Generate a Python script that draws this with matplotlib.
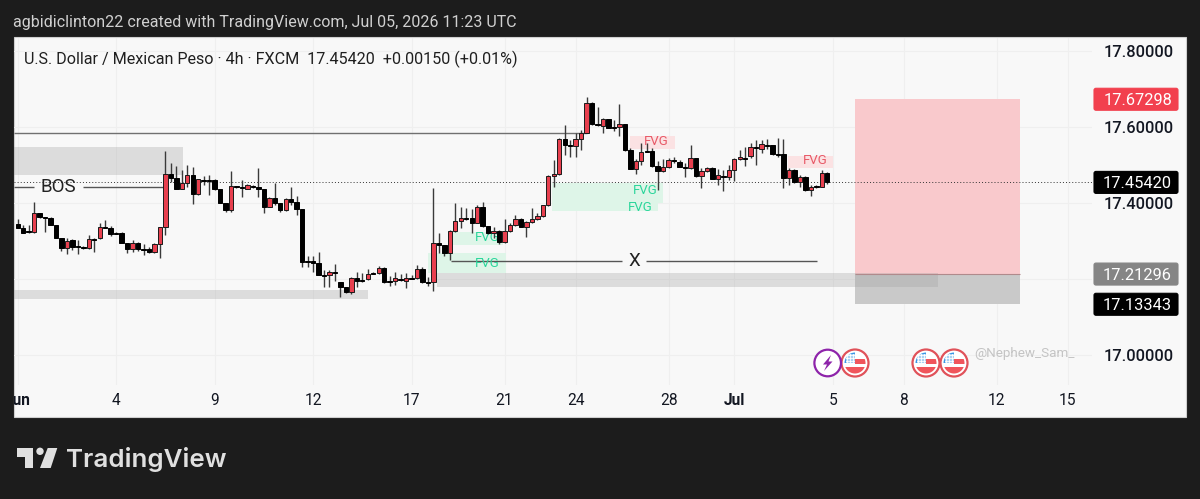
import matplotlib
matplotlib.use("Agg")
import matplotlib.pyplot as plt
import numpy as np
from matplotlib.patches import Circle, FancyBboxPatch, Polygon, Rectangle
from matplotlib.transforms import Bbox

plt.rcParams["font.family"] = ["Roboto", "DejaVu Sans"]

# 4h candles
open_ = [17.345, 17.334, 17.326, 17.324, 17.374, 17.363, 17.361, 17.342, 17.308, 17.282,
         17.303, 17.287, 17.284, 17.282, 17.305, 17.308, 17.337, 17.334, 17.321, 17.321,
         17.295, 17.279, 17.295, 17.279, 17.279, 17.271, 17.292, 17.337, 17.476, 17.466,
         17.437, 17.453, 17.474, 17.424, 17.461, 17.461, 17.461, 17.437, 17.400, 17.382,
         17.445, 17.442, 17.437, 17.445, 17.442, 17.437, 17.389, 17.413, 17.400, 17.382,
         17.411, 17.403, 17.384, 17.247, 17.247, 17.242, 17.211, 17.211, 17.218, 17.192,
         17.179, 17.166, 17.203, 17.197, 17.200, 17.216, 17.216, 17.229, 17.195, 17.195,
         17.200, 17.195, 17.203, 17.203, 17.226, 17.192, 17.192, 17.295, 17.289, 17.268,
         17.326, 17.353, 17.361, 17.361, 17.347, 17.389, 17.339, 17.321, 17.326, 17.297,
         17.326, 17.342, 17.358, 17.337, 17.350, 17.358, 17.366, 17.395, 17.471, 17.476,
         17.568, 17.553, 17.550, 17.568, 17.584, 17.663, 17.608, 17.603, 17.621, 17.600,
         17.600, 17.608, 17.539, 17.489, 17.511, 17.537, 17.537, 17.497, 17.484, 17.495,
         17.513, 17.508, 17.495, 17.492, 17.518, 17.471, 17.484, 17.492, 17.463, 17.471,
         17.468, 17.487, 17.516, 17.518, 17.524, 17.547, 17.542, 17.553, 17.553, 17.529,
         17.529, 17.466, 17.487, 17.455, 17.468, 17.434, 17.445, 17.442, 17.479]
close = [17.334, 17.321, 17.324, 17.374, 17.363, 17.361, 17.342, 17.308, 17.282, 17.300,
         17.284, 17.284, 17.282, 17.305, 17.303, 17.337, 17.334, 17.318, 17.318, 17.295,
         17.279, 17.295, 17.279, 17.276, 17.271, 17.292, 17.337, 17.476, 17.466, 17.437,
         17.453, 17.474, 17.424, 17.463, 17.458, 17.458, 17.437, 17.400, 17.382, 17.445,
         17.442, 17.439, 17.447, 17.442, 17.437, 17.389, 17.413, 17.400, 17.382, 17.411,
         17.403, 17.384, 17.245, 17.245, 17.242, 17.211, 17.208, 17.218, 17.216, 17.179,
         17.166, 17.203, 17.195, 17.195, 17.213, 17.213, 17.229, 17.192, 17.192, 17.203,
         17.197, 17.203, 17.200, 17.226, 17.192, 17.189, 17.295, 17.289, 17.268, 17.326,
         17.353, 17.361, 17.358, 17.347, 17.389, 17.339, 17.321, 17.326, 17.297, 17.326,
         17.342, 17.358, 17.337, 17.350, 17.358, 17.366, 17.395, 17.471, 17.476, 17.568,
         17.553, 17.550, 17.568, 17.584, 17.663, 17.608, 17.605, 17.621, 17.597, 17.597,
         17.608, 17.539, 17.489, 17.511, 17.534, 17.534, 17.497, 17.484, 17.495, 17.513,
         17.511, 17.495, 17.492, 17.518, 17.471, 17.484, 17.492, 17.463, 17.474, 17.468,
         17.487, 17.516, 17.521, 17.516, 17.547, 17.545, 17.555, 17.550, 17.529, 17.526,
         17.466, 17.487, 17.455, 17.468, 17.434, 17.442, 17.442, 17.479, 17.455]
high = [17.358, 17.342, 17.342, 17.403, 17.374, 17.363, 17.363, 17.342, 17.308, 17.308,
        17.305, 17.303, 17.287, 17.316, 17.308, 17.347, 17.355, 17.339, 17.324, 17.324,
        17.295, 17.303, 17.297, 17.292, 17.284, 17.295, 17.337, 17.537, 17.505, 17.497,
        17.487, 17.500, 17.495, 17.463, 17.471, 17.474, 17.463, 17.437, 17.400, 17.484,
        17.445, 17.461, 17.450, 17.447, 17.492, 17.437, 17.416, 17.453, 17.400, 17.413,
        17.442, 17.418, 17.384, 17.261, 17.261, 17.271, 17.224, 17.224, 17.239, 17.192,
        17.179, 17.205, 17.218, 17.216, 17.226, 17.218, 17.234, 17.232, 17.208, 17.218,
        17.213, 17.216, 17.211, 17.237, 17.232, 17.205, 17.439, 17.321, 17.289, 17.329,
        17.400, 17.389, 17.387, 17.384, 17.395, 17.403, 17.339, 17.337, 17.329, 17.358,
        17.347, 17.368, 17.361, 17.353, 17.387, 17.374, 17.395, 17.474, 17.513, 17.571,
        17.605, 17.566, 17.584, 17.592, 17.679, 17.666, 17.653, 17.624, 17.621, 17.618,
        17.661, 17.608, 17.545, 17.516, 17.558, 17.558, 17.545, 17.511, 17.516, 17.518,
        17.521, 17.513, 17.505, 17.553, 17.518, 17.492, 17.495, 17.495, 17.489, 17.487,
        17.500, 17.518, 17.539, 17.547, 17.558, 17.566, 17.566, 17.568, 17.553, 17.571,
        17.568, 17.492, 17.489, 17.474, 17.471, 17.447, 17.447, 17.487, 17.482]
low = [17.334, 17.321, 17.321, 17.321, 17.361, 17.324, 17.342, 17.308, 17.274, 17.266,
       17.276, 17.266, 17.279, 17.279, 17.271, 17.305, 17.334, 17.313, 17.318, 17.295,
       17.268, 17.271, 17.274, 17.263, 17.268, 17.268, 17.255, 17.316, 17.455, 17.437,
       17.437, 17.442, 17.397, 17.421, 17.447, 17.421, 17.434, 17.400, 17.376, 17.376,
       17.439, 17.416, 17.437, 17.439, 17.416, 17.374, 17.389, 17.395, 17.376, 17.379,
       17.395, 17.368, 17.232, 17.232, 17.218, 17.211, 17.179, 17.179, 17.195, 17.153,
       17.163, 17.161, 17.179, 17.192, 17.197, 17.213, 17.213, 17.189, 17.182, 17.184,
       17.195, 17.176, 17.200, 17.200, 17.189, 17.182, 17.168, 17.268, 17.261, 17.250,
       17.324, 17.334, 17.355, 17.321, 17.347, 17.337, 17.318, 17.308, 17.292, 17.295,
       17.324, 17.339, 17.337, 17.311, 17.347, 17.355, 17.363, 17.392, 17.442, 17.474,
       17.526, 17.521, 17.521, 17.539, 17.584, 17.605, 17.603, 17.584, 17.597, 17.589,
       17.576, 17.537, 17.489, 17.476, 17.500, 17.534, 17.495, 17.434, 17.482, 17.492,
       17.505, 17.495, 17.468, 17.489, 17.468, 17.439, 17.482, 17.463, 17.447, 17.432,
       17.461, 17.458, 17.513, 17.497, 17.518, 17.500, 17.532, 17.542, 17.526, 17.521,
       17.439, 17.447, 17.453, 17.442, 17.432, 17.418, 17.439, 17.442, 17.450]

# axis labels
x_tick_pos = [0, 18, 36, 54, 72, 89, 102, 119, 131, 149, 162, 179, 192]
x_tick_txt = ["Jun", "4", "9", "12", "17", "21", "24", "28", "Jul", "5", "8", "12", "15"]
y_tick_pos = [17.0, 17.2, 17.4, 17.6, 17.8]
y_tick_txt = ["17.00000", "", "17.40000", "17.60000", "17.80000"]

# drawn zones: start, end, top, bottom
green_zones = [(79.6, 88.7, 17.324, 17.289), (75.0, 89.3, 17.268, 17.216),
               (97.7, 118.0, 17.453, 17.400), (97.7, 117.0, 17.400, 17.379)]
red_zones = [(111.9, 120.2, 17.576, 17.542), (140.8, 149.0, 17.524, 17.492)]
gray_zones = [(-0.7, 30.2, 17.547, 17.474), (-0.7, 64.0, 17.171, 17.147),
              (76.7, 168.2, 17.216, 17.179)]
fvg_green = [(85.8, 17.308), (85.8, 17.242), (114.7, 17.434), (113.8, 17.389)]
fvg_red = [(116.7, 17.561), (145.8, 17.511)]

last_price = 17.45420
box_left, box_right = 153.07, 183.2
box_stop, box_entry, box_target = 17.67298, 17.21296, 17.13343

BG = "#1c1c1c"
PANEL = "#f8f8f8"
TXT = "#131722"
RED = "#e8404f"

fig = plt.figure(figsize=(12, 4.99), dpi=100, facecolor=BG)

# panel behind the chart
bg = fig.add_axes([0, 0, 1, 1], zorder=0)
bg.set_xlim(0, 1200)
bg.set_ylim(499, 0)
bg.axis("off")
bg.add_patch(Rectangle((14, 37), 1172, 380, fc=PANEL, ec="#cfcfcf", lw=0.8))

# main chart, 14..1092 px across, 38..385 px down
ax = fig.add_axes([14 / 1200, 1 - 385 / 499, 1078 / 1200, 347 / 499], zorder=1)
ax.patch.set_alpha(0)
for s in ax.spines.values():
    s.set_visible(False)
ax.set_xlim(-0.676, 196.4)
ax.set_ylim(16.921, 17.8342)
ax.set_xticks(x_tick_pos, x_tick_txt)
ax.yaxis.tick_right()
ax.set_yticks(y_tick_pos, y_tick_txt)
ax.tick_params(axis="x", length=0, pad=6, labelsize=11.2, labelcolor=TXT)
ax.tick_params(axis="y", length=0, pad=8.5, labelsize=11.8, labelcolor=TXT)
for lbl in ax.get_yticklabels():
    lbl.set_fontweight("medium")
ax.grid(color="#efefef", lw=0.8)
ax.set_axisbelow(True)

clip = Bbox([[14, 0], [1186, 499]])
for lbl, txt in zip(ax.get_xticklabels(), x_tick_txt):
    lbl.set_clip_on(True)
    lbl.set_clip_box(clip)
    if txt in ("Jun", "Jul"):
        lbl.set_fontweight("bold")

# position box
ax.add_patch(Rectangle((box_left, box_entry), box_right - box_left, box_stop - box_entry,
                       fc="#f9c9cc", ec="none", zorder=1))
ax.add_patch(Rectangle((box_left, box_target), box_right - box_left, box_entry - box_target,
                       fc="#c9c9c9", ec="none", zorder=1))
ax.hlines(box_entry, box_left, box_right, color="#b08a8c", lw=0.8, zorder=1.5)


def zone(z, color, alpha=1.0):
    ax.add_patch(Rectangle((z[0], z[3]), z[1] - z[0], z[2] - z[3], fc=color, ec="none",
                           alpha=alpha, zorder=1.2))


for z in gray_zones:
    zone(z, "#9e9e9e", 0.3)
for z in green_zones:
    zone(z, "#def5e8")
for z in red_zones:
    zone(z, "#fbe2e3")
for x, y in fvg_green:
    ax.text(x, y, "FVG", color="#2bd69b", fontsize=9.5, ha="center", va="center", zorder=2)
for x, y in fvg_red:
    ax.text(x, y, "FVG", color="#e85a68", fontsize=9.5, ha="center", va="center", zorder=2)

# drawn lines
ax.hlines(17.584, -0.7, 104, color="#707070", lw=1.0, zorder=1.5)
ax.axhline(last_price, color="#333333", lw=0.7, ls=(0, (1, 2.2)), zorder=1.5)
ax.hlines(17.441, -0.7, 3.0, color="#555555", lw=1.0, zorder=1.5)
ax.hlines(17.441, 11.9, 26.6, color="#555555", lw=1.0, zorder=1.5)
ax.text(7.4, 17.441, "BOS", color="#222222", fontsize=13.5, ha="center", va="center")
ax.hlines(17.247, 79.2, 110.5, color="#555555", lw=1.0, zorder=1.5)
ax.hlines(17.247, 114.9, 146.1, color="#555555", lw=1.0, zorder=1.5)
ax.text(112.7, 17.247, "X", color="#222222", fontsize=13.5, ha="center", va="center")

# candles
idx = np.arange(len(open_))
o, c = np.array(open_), np.array(close)
up = c >= o
ax.vlines(idx, low, high, color="#3a3a3a", lw=1.0, zorder=3)
ax.bar(idx[up], (c - o)[up], bottom=o[up], width=0.8, color=RED, edgecolor="#1a1a1a",
       lw=0.7, zorder=4)
ax.bar(idx[~up], (o - c)[~up], bottom=c[~up], width=0.8, color="black", edgecolor="black",
       lw=0.7, zorder=4)

# everything in plain pixels on top
top = fig.add_axes([0, 0, 1, 1], zorder=2)
top.set_xlim(0, 1200)
top.set_ylim(499, 0)
top.axis("off")
top.patch.set_alpha(0)

top.text(13, 22, "agbidiclinton22 created with TradingView.com, Jul 05, 2026 11:23 UTC",
         color="#d0d0d0", fontsize=11.55, va="center")
top.text(24, 59, "U.S. Dollar / Mexican Peso · 4h · FXCM  17.45420  +0.00150 (+0.01%)",
         color="#1f1f1f", fontsize=11.65, va="center")
top.text(974, 354, "@Nephew_Sam_", color="#c4c4c4", fontsize=9.7, va="center")
top.text(66, 459, "TradingView", color="#e0e0e0", fontsize=18.7, fontweight="semibold",
         family="Inter", va="center")

# logo
top.add_patch(Polygon([(17, 448), (33, 448), (33, 468), (25, 468), (25, 457), (17, 457)],
                      fc="#e0e0e0", ec="none"))
top.add_patch(Circle((40, 451.3), 3.7, fc="#e0e0e0", ec="none"))
top.add_patch(Polygon([(47.7, 448), (57.3, 448), (50.7, 468), (40, 468)], fc="#e0e0e0", ec="none"))


def price_y(p):
    # price to the pixel row of the top axes
    return 499 - ax.transData.transform((0, p))[1]


def tag(p, color, fg="white"):
    y = price_y(p)
    top.add_patch(FancyBboxPatch((1094, y - 11), 84, 22, boxstyle="round,pad=0,rounding_size=2",
                                 fc=color, ec=color, lw=0.8))
    top.text(1172, y, f"{p:.5f}", color=fg, fontsize=11.8, ha="right", va="center_baseline")


tag(box_stop, "#f2404e")
tag(last_price, "black")
tag(box_entry, "#858585")
tag(box_target, "black")


def flag(cx, cy):
    top.add_patch(Circle((cx, cy), 13.5, fc="white", ec="#e0525a", lw=1.6, zorder=3))
    disc = Circle((cx, cy), 10.5, transform=top.transData)
    parts = [Rectangle((cx - 11, cy - 11), 22, 22, fc="white", ec="none", zorder=4),
             Rectangle((cx, cy - 4), 11, 4.5, fc="#f0555c", ec="none", zorder=4),
             Rectangle((cx - 11, cy + 4), 22, 7, fc="#f0555c", ec="none", zorder=4),
             Rectangle((cx - 11, cy - 11), 11, 11, fc="#3a97e6", ec="none", zorder=4)]
    for p in parts:
        top.add_patch(p)
        p.set_clip_path(disc)
    for dx in (-8, -5, -2):
        for dy in (-8, -5, -2):
            top.plot(cx + dx, cy + dy, "s", ms=1.0, color="white", zorder=5)


for cx in (855, 926, 954):
    flag(cx, 363)
top.add_patch(Circle((827.7, 363), 13.3, fc="white", ec="#8e24aa", lw=1.6, zorder=3))
top.add_patch(Polygon([(831, 355), (823, 364.5), (827, 364.5), (824, 371), (832.5, 361.5),
                       (828.5, 361.5)], fc="#8e24aa", ec="none", zorder=4))

fig.savefig("out.png", dpi=100, facecolor=BG)
